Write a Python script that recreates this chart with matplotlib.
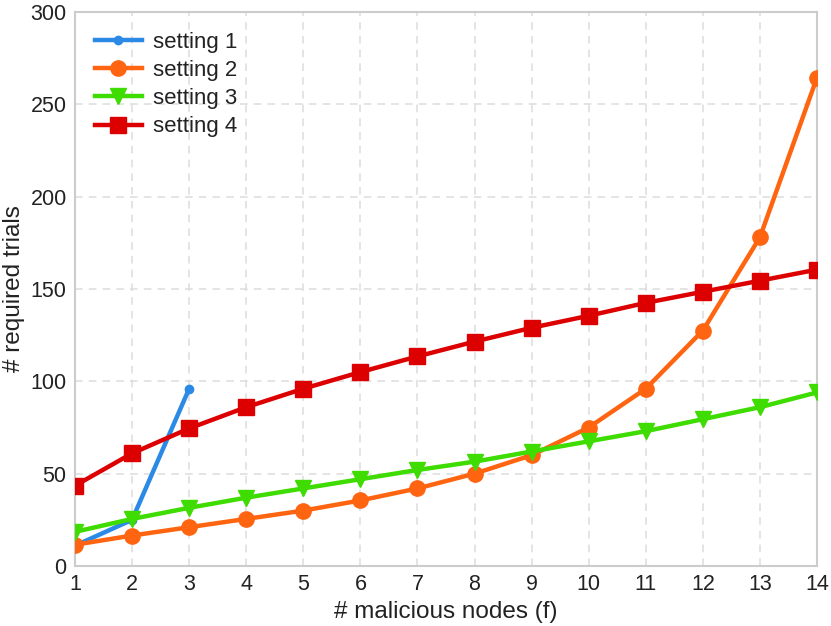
import numpy as np
import matplotlib.pyplot as plt

# ======================
# data
# ======================
f_s1 = [1, 2, 3]
trials_s1 = [11, 25, 96]

f_all = list(range(1, 15))
trials_s2 = [11.5, 16.5, 21, 25.5, 30, 35.5, 42, 50, 60, 75, 96, 127.5, 178, 264.5]
trials_s3 = [18.5, 25.5, 31.5, 37, 42, 47, 52, 56.5, 62, 67.5, 73, 79.5, 86, 94]
trials_s4 = [43.5, 61, 74.5, 86, 96, 105, 113.5, 121.5, 129, 135.5, 142.5, 148.5, 154.5, 160.5]

plt.rcParams["font.family"] = ["Liberation Sans", "DejaVu Sans"]

fig = plt.figure(figsize=(8.31, 6.26), dpi=100)
ax = fig.add_axes([75 / 831, 1 - 566 / 626, (817 - 75) / 831, (566 - 12) / 626])

ax.plot(f_s1, trials_s1, color="#2a8ae6", lw=3.2, marker="o", ms=6, label="setting 1", zorder=3)
ax.plot(f_all, trials_s2, color="#ff6411", lw=3.2, marker="o", ms=11, label="setting 2", zorder=3)
ax.plot(f_all, trials_s3, color="#3edc00", lw=3.2, marker="v", ms=11, label="setting 3", zorder=3)
ax.plot(f_all, trials_s4, color="#dd0000", lw=3.2, marker="s", ms=11, label="setting 4", zorder=3)

ax.set_xlim(1, 14)
ax.set_ylim(0, 300)
ax.set_xticks(f_all)
ax.set_yticks(np.arange(0, 301, 50))

ax.grid(True, color="#dddddd", linestyle=(0, (5, 4)), lw=1.1)
for s in ax.spines.values():
    s.set_color("#cccccc")
    s.set_linewidth(1.5)
ax.tick_params(length=0, labelsize=15.5, colors="#222222", pad=6)

ax.set_xlabel("# malicious nodes (f)", fontsize=17.5, color="#222222")
ax.set_ylabel("# required trials", fontsize=17.5, color="#222222")

leg = ax.legend(loc="upper left", fontsize=16, frameon=False, handlelength=2.1,
                handletextpad=0.5, borderaxespad=0.5, labelspacing=0.32)
for t in leg.get_texts():
    t.set_color("#222222")

fig.savefig("out.png", dpi=100)
